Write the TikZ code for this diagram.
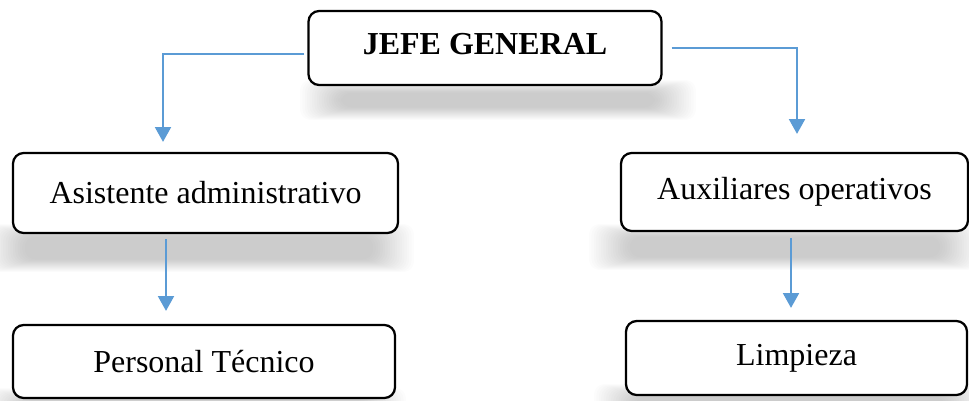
\documentclass[tikz,border=0pt]{standalone}
\usepackage{fontspec}
\setmainfont{Liberation Serif}
\usetikzlibrary{arrows.meta}
\definecolor{conncol}{HTML}{5B9BD5}
\newcommand{\softshadow}[4]{%
  \foreach \i in {0,...,17}{%
    \fill[black,opacity=0.013,rounded corners=8pt] (#1+\i*2.4,#2+\i*0.75) rectangle (#3-\i*2.4,#4-\i*0.75);}}
\begin{document}
\begin{tikzpicture}[x=0.75pt,y=-0.75pt,
  box/.style={draw=black,line width=1.7pt,rounded corners=8pt,fill=white,
    font=\fontsize{24}{28}\selectfont,inner sep=0pt},
  conn/.style={draw=conncol,line width=1.1pt,-{Triangle[width=12pt,length=11pt]}}]
\useasboundingbox (0,0) rectangle (969,400);
% shadows
\softshadow{300}{80}{696}{120}
\softshadow{-16}{224}{414}{272}
\softshadow{589}{224}{981}{270}
\softshadow{-16}{388}{406}{436}
\softshadow{594}{384}{986}{434}
% boxes
\node[box,minimum width=353*0.75pt,minimum height=74*0.75pt,
  font=\fontsize{24}{28}\selectfont\bfseries,text depth=6pt] (jefe) at (485,48) {JEFE GENERAL};
\node[box,minimum width=385*0.75pt,minimum height=80*0.75pt] (asis) at (205.5,193) {Asistente administrativo};
\node[box,minimum width=347*0.75pt,minimum height=78*0.75pt] (aux) at (794.5,192) {Auxiliares operativos};
\node[box,minimum width=382*0.75pt,minimum height=73*0.75pt] (pers) at (204,361.5) {Personal Técnico};
\node[box,minimum width=341*0.75pt,minimum height=74*0.75pt] (limp) at (796.5,358) {Limpieza};
% connectors
\draw[conn] ([shift={(-3,6)}]jefe.west) -| ([shift={(-42.5,-10)}]asis.north);
\draw[conn] ([shift={(9,0)}]jefe.east) -| ([shift={(2.5,-18)}]aux.north);
\draw[conn] ([shift={(-39.5,5)}]asis.south) -- ([shift={(-38,-13)}]pers.north);
\draw[conn] ([shift={(-3.5,6)}]aux.south) -- ([shift={(-5.5,-12)}]limp.north);
\end{tikzpicture}
\end{document}
